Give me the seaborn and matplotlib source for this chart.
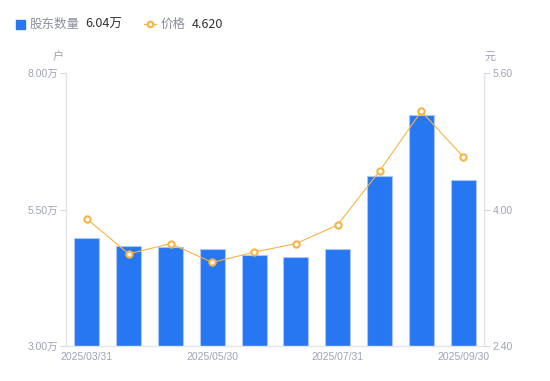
import pandas as pd
import matplotlib.pyplot as plt
import seaborn as sns
from matplotlib.patches import Rectangle
from matplotlib.lines import Line2D

# --- dados ---
datas = ["2025/03/31", "2025/04/10", "2025/04/30", "2025/05/30", "2025/06/20",
         "2025/06/30", "2025/07/31", "2025/08/20", "2025/08/31", "2025/09/30"]
acionistas = [4.98, 4.83, 4.81, 4.78, 4.67, 4.63, 4.78, 6.11, 7.23, 6.04]   # 万户
precos = [3.89, 3.48, 3.60, 3.38, 3.50, 3.60, 3.82, 4.45, 5.15, 4.620]        # 元
rotulos_x = ["2025/03/31", "2025/05/30", "2025/07/31", "2025/09/30"]

AZUL = "#2776f2"
LARANJA = "#f8b443"
CINZA = "#9fa3b3"

df = pd.DataFrame({"data": datas, "qtd": acionistas, "preco": precos})

sns.set_theme(style="white")
plt.rcParams["font.family"] = ["Liberation Sans", "Noto Sans CJK SC", "DejaVu Sans"]

fig = plt.figure(figsize=(5.5, 3.81), dpi=100)
ax = fig.add_axes([66 / 550, 35 / 381, 418 / 550, 273 / 381])

sns.barplot(data=df, x="data", y="qtd", color=AZUL, width=0.6, saturation=1,
            edgecolor="#a9c8f8", linewidth=0.8, ax=ax)
ax.set_ylim(3.0, 8.0)
ax.set_xlim(-0.5, len(datas) - 0.5)
ax.set_yticks([3.0, 5.5, 8.0])
ax.set_yticklabels(["3.00万", "5.50万", "8.00万"])
ax.set_xticks([datas.index(d) for d in rotulos_x])
ax.set_xticklabels(rotulos_x)
ax.set_xlabel("")
ax.set_ylabel("")

ax2 = ax.twinx()
sns.lineplot(data=df, x="data", y="preco", color=LARANJA, linewidth=0.8,
             marker="o", markersize=4.5, markerfacecolor="white",
             markeredgecolor=LARANJA, markeredgewidth=1.5, ax=ax2)
ax2.set_ylim(2.4, 5.6)
ax2.set_yticks([2.4, 4.0, 5.6])
ax2.set_yticklabels(["2.40", "4.00", "5.60"])
ax2.set_xlim(-0.5, len(datas) - 0.5)
ax2.set_ylabel("")

for a in (ax, ax2):
    for s in a.spines.values():
        s.set_visible(False)
    a.tick_params(labelsize=7.5, labelcolor=CINZA, color="#d6d8de", length=4, width=0.8)
ax.spines["left"].set_visible(True)
ax.spines["bottom"].set_visible(True)
ax2.spines["right"].set_visible(True)
for s in (ax.spines["left"], ax.spines["bottom"], ax2.spines["right"]):
    s.set_color("#e3e5ea")
    s.set_linewidth(1)
ax.tick_params(axis="x", length=0, pad=4)
ax.tick_params(axis="y", left=True, pad=2)
ax2.tick_params(axis="y", right=True, pad=2)

cjk = ["Noto Sans CJK SC", "DejaVu Sans"]

# unidades dos eixos
fig.text(58 / 550, 1 - 57 / 381, "户", fontsize=8, color=CINZA, ha="center", va="center", family=cjk)
fig.text(490 / 550, 1 - 57 / 381, "元", fontsize=8, color=CINZA, ha="center", va="center", family=cjk)

# legenda no topo
y_leg = 1 - 24 / 381
fig.patches.append(Rectangle((16 / 550, y_leg - 4.5 / 381), 9 / 550, 9 / 381,
                             transform=fig.transFigure, color=AZUL, figure=fig))
fig.text(30 / 550, y_leg, "股东数量", fontsize=9, color="#8a8f9e", va="center", family=cjk)
fig.text(85 / 550, y_leg, "6.04万", fontsize=9, color="#333333", va="center", family=cjk)
fig.lines.append(Line2D([144 / 550, 156 / 550], [y_leg, y_leg], transform=fig.transFigure,
                        color=LARANJA, linewidth=1, figure=fig))
fig.lines.append(Line2D([150 / 550], [y_leg], transform=fig.transFigure, marker="o",
                        markersize=4, markerfacecolor="white", markeredgecolor=LARANJA,
                        markeredgewidth=1.5, figure=fig))
fig.text(161 / 550, y_leg, "价格", fontsize=9, color="#8a8f9e", va="center", family=cjk)
fig.text(192 / 550, y_leg, "4.620", fontsize=9, color="#333333", va="center", family=cjk)

plt.savefig("out.png", dpi=100)
